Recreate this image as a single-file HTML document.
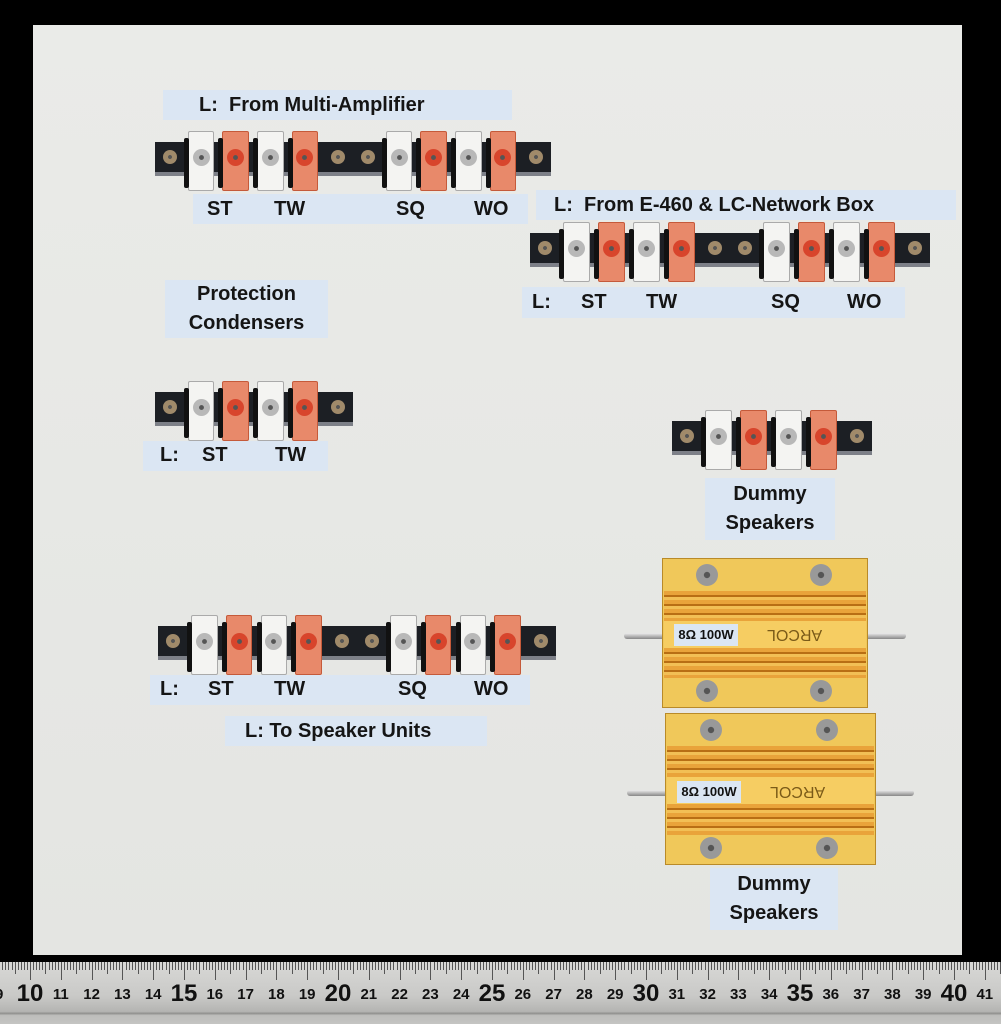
<!DOCTYPE html>
<html><head><meta charset="utf-8">
<style>
*{margin:0;padding:0;box-sizing:border-box}
body{width:1001px;height:1024px;background:#000;position:relative;overflow:hidden;font-family:"Liberation Sans",sans-serif}
#board{position:absolute;left:33px;top:25px;width:929px;height:930px;background:linear-gradient(180deg,#eaebe8,#e4e5e2)}
.lab{position:absolute;background:#dbe6f3;font-weight:bold;color:#151515;font-size:20px;line-height:30px;white-space:nowrap}
.t{position:absolute;font-weight:bold;font-size:20px;color:#151515}
.c{text-align:center;line-height:29px}
.bar{position:absolute;background:#1c1f24;border-bottom:4px solid #7d8088}
.lug{position:absolute;border-radius:2px}
.sc{position:absolute;border-radius:50%}
#ruler{position:absolute;left:0;top:962px;width:1001px;height:62px;background:linear-gradient(180deg,#d8d8d6 0,#c9c9c7 55%,#b4b4b2 80%,#8f8f8d 83%,#bdbdbb 86%,#c4c4c2 100%)}
.tk{position:absolute;top:0;width:1px;background:#555}
.num{position:absolute;top:22px;font-weight:bold;color:#111;font-size:15px;transform:translateX(-50%)}
.res{position:absolute}
</style></head><body>
<div id="board"></div>

<div class="lab" style="left:163px;top:90px;width:349px;padding-left:36px">L:&nbsp; From Multi-Amplifier</div>
<div class="lab" style="left:193px;top:194px;width:335px;height:30px"></div>
<div class="t" style="left:207px;top:198px">ST</div><div class="t" style="left:274px;top:198px">TW</div><div class="t" style="left:396px;top:198px">SQ</div><div class="t" style="left:474px;top:198px">WO</div>

<div class="lab" style="left:536px;top:190px;width:420px;padding-left:18px">L:&nbsp; From E-460 &amp; LC-Network Box</div>
<div class="lab" style="left:522px;top:287px;width:383px;height:31px"></div>
<div class="t" style="left:532px;top:291px">L:</div><div class="t" style="left:581px;top:291px">ST</div><div class="t" style="left:646px;top:291px">TW</div><div class="t" style="left:771px;top:291px">SQ</div><div class="t" style="left:847px;top:291px">WO</div>

<div class="lab c" style="left:165px;top:280px;width:163px;height:58px">Protection<br>Condensers</div>
<div class="lab" style="left:143px;top:441px;width:185px;height:30px"></div>
<div class="t" style="left:160px;top:444px">L:</div><div class="t" style="left:202px;top:444px">ST</div><div class="t" style="left:275px;top:444px">TW</div>

<div class="lab c" style="left:705px;top:478px;width:130px;height:62px;padding-top:2px">Dummy<br>Speakers</div>

<div class="lab" style="left:150px;top:675px;width:380px;height:30px"></div>
<div class="t" style="left:160px;top:678px">L:</div><div class="t" style="left:208px;top:678px">ST</div><div class="t" style="left:274px;top:678px">TW</div><div class="t" style="left:398px;top:678px">SQ</div><div class="t" style="left:474px;top:678px">WO</div>
<div class="lab" style="left:225px;top:716px;width:262px;padding-left:20px">L: To Speaker Units</div>

<div class="lab c" style="left:710px;top:868px;width:128px;height:62px;padding-top:2px">Dummy<br>Speakers</div>

<div id="strips"></div>
<div id="res"></div>
<div id="ruler"></div>

<script>
function strip(x,y,units,w){ // y = bar top
  var h='';var uw=w;
  for(var u=0;u<units;u++){
    var bx=x+u*uw;
    h+='<div class="bar" style="left:'+bx+'px;top:'+y+'px;width:'+uw+'px;height:34px"></div>';
    var e=uw*0.15;
    h+=scr(bx+e/2,y+15,'#a08a6a',14);
    h+=scr(bx+uw-e/2,y+15,'#a08a6a',14);
    var lw=(uw-2*e)/4;
    for(var i=0;i<4;i++){
      var lx=bx+e+i*lw;var o=i%2==1;
      var col=o?'#e8896a':'#f4f4f2';
      h+='<div class="lug" style="left:'+(lx+3)+'px;top:'+(y-11)+'px;width:'+(lw-8)+'px;height:60px;background:'+col+';border:1px solid '+(o?'#c55a3a':'#aaa')+'"></div>';
      h+='<div class="lug" style="left:'+(lx-1)+'px;top:'+(y-4)+'px;width:5px;height:50px;background:#111"></div>';
      h+=scr(lx+lw/2-1,y+15,o?'#d8452c':'#b8b8b8',17);
    }
  }
  return h;
}
function scr(cx,cy,c,d){return '<div class="sc" style="left:'+(cx-d/2)+'px;top:'+(cy-d/2)+'px;width:'+d+'px;height:'+d+'px;background:radial-gradient(circle,#555 0 18%,'+c+' 22%)"></div>';}
var s='';
s+=strip(155,142,2,198);
s+=strip(530,233,2,200);
s+=strip(155,392,1,198);
s+=strip(672,421,1,200);
s+=strip(158,626,2,199);
document.getElementById('strips').innerHTML=s;

function res(x,y,w,hh,ly){
  var h='';
  h+='<div class="res" style="left:'+(x-38)+'px;top:'+(ly-3)+'px;width:'+(w+76)+'px;height:6px;background:linear-gradient(#eee,#888);border-radius:3px"></div>';
  h+='<div class="res" style="left:'+x+'px;top:'+y+'px;width:'+w+'px;height:'+hh+'px;background:#f0c85a;border:1px solid #b98a28"></div>';
  var by=y+hh*0.22,bh=hh*0.58;
  var g='repeating-linear-gradient(180deg,#e9a33a 0 4px,#b86e14 4px 6px,#f2bf55 6px 9px)';
  h+='<div class="res" style="left:'+(x+2)+'px;top:'+by+'px;width:'+(w-4)+'px;height:'+(bh*0.35)+'px;background:'+g+'"></div>';
  h+='<div class="res" style="left:'+(x+2)+'px;top:'+(by+bh*0.35)+'px;width:'+(w-4)+'px;height:'+(bh*0.3)+'px;background:#f6cd62"></div>';
  h+='<div class="res" style="left:'+(x+2)+'px;top:'+(by+bh*0.65)+'px;width:'+(w-4)+'px;height:'+(bh*0.35)+'px;background:'+g+'"></div>';
  h+='<div class="res" style="left:'+(x+12)+'px;top:'+(ly-12)+'px;width:64px;height:22px;background:#dbe6f3;font:bold 13px \'Liberation Sans\',sans-serif;line-height:22px;text-align:center;color:#111">8Ω 100W</div>';
  h+='<div class="res" style="left:'+(x+105)+'px;top:'+(ly-11)+'px;font:16px \'Liberation Sans\',sans-serif;color:#7a5a18;transform:rotate(180deg)">ARCOL</div>';
  var sx=[x+w*0.22,x+w*0.77];
  for(var i=0;i<2;i++){h+=scr(sx[i],y+17,'#999',22);h+=scr(sx[i],y+hh-17,'#999',22);}
  return h;
}
document.getElementById('res').innerHTML=res(662,558,206,150,636)+res(665,713,211,152,793);

var r='';
var px=30.8;
for(var mm=-30;mm<=320;mm++){
  var x=30+mm*px/10; if(x<0||x>1001)continue;
  var l=(mm%10==0)?18:(mm%5==0?12:8);
  r+='<div class="tk" style="left:'+x.toFixed(1)+'px;height:'+l+'px"></div>';
}
for(var n=9;n<=41;n++){
  var x=30+(n-10)*px;var big=(n%5==0);
  r+='<div class="num" style="left:'+x.toFixed(1)+'px;font-size:'+(big?24:15)+'px;top:'+(big?18:24)+'px">'+n+'</div>';
}
document.getElementById('ruler').innerHTML=r;
</script>
</body></html>
